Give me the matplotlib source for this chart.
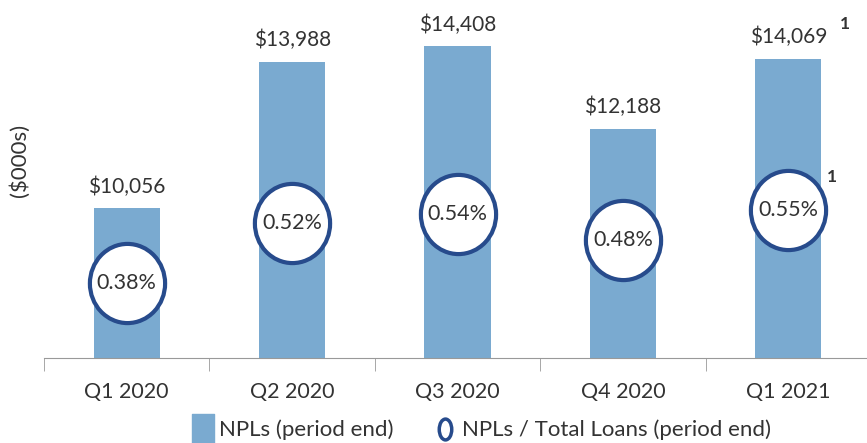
import matplotlib.pyplot as plt
from matplotlib.lines import Line2D
from matplotlib.path import Path
from matplotlib.transforms import Affine2D

quarters = ["Q1 2020", "Q2 2020", "Q3 2020", "Q4 2020", "Q1 2021"]
npls = [10056, 13988, 14408, 12188, 14069]
npl_ratio = [0.38, 0.52, 0.54, 0.48, 0.55]

BAR = "#7aaad0"
NAVY = "#274b8c"
TXT = "#333333"
FONT = "Lato"

plt.rcParams["font.family"] = [FONT, "DejaVu Sans"]

fig = plt.figure(figsize=(8.67, 4.43), dpi=100)
ax = fig.add_axes([44 / 867, 1 - 358 / 443, 827 / 867, 348 / 443])
x = list(range(len(quarters)))

ax.bar(x, npls, width=0.4, color=BAR, zorder=1)
ax.set_xlim(-0.5, 4.5)
ax.set_ylim(6026, 15376)
for xi, v in zip(x, npls):
    ax.annotate(f"${v:,}", (xi, v), xytext=(0, 8), textcoords="offset points",
                ha="center", va="bottom", fontsize=15, color=TXT)

for s in ["top", "right", "left"]:
    ax.spines[s].set_visible(False)
ax.spines["bottom"].set_color("#999999")
ax.set_yticks([])
ax.set_xticks(x)
ax.set_xticklabels(quarters, fontsize=15.5, color=TXT)
ax.tick_params(axis="x", which="major", length=0, pad=17)
ax.set_xticks([i - 0.5 for i in range(len(quarters) + 1)], minor=True)
ax.tick_params(axis="x", which="minor", length=9, color="#999999")

# slightly tall ellipse like the original
oval = Path.unit_circle().transformed(Affine2D().scale(0.95, 1.0))

ax2 = ax.twinx()
ax2.set_ylim(0.2065, 1.012)
ax2.axis("off")
ax2.plot(x, npl_ratio, linestyle="none", marker=oval, markersize=57,
         markerfacecolor="white", markeredgecolor=NAVY, markeredgewidth=3, zorder=3)
for xi, r in zip(x, npl_ratio):
    ax2.text(xi, r, f"{r:.2f}%", ha="center", va="center", fontsize=15.5, color=TXT, zorder=4)

# footnote markers on the latest quarter
ax.annotate("1", (4, npls[4]), xytext=(37, 19), textcoords="offset points",
            ha="left", va="bottom", fontsize=12.5, fontweight="bold", color=TXT)
ax2.annotate("1", (4, npl_ratio[4]), xytext=(28, 18), textcoords="offset points",
             ha="left", va="bottom", fontsize=12.5, fontweight="bold", color=TXT)

fig.text(20 / 867, 1 - 160 / 443, "($000s)", rotation=90, ha="center", va="center",
         fontsize=16, color=TXT)

leg_oval = Path.unit_circle().transformed(Affine2D().scale(0.6, 1.0))
handles = [
    Line2D([], [], linestyle="none", marker=Path([(-0.75, -1), (0.75, -1), (0.75, 1), (-0.75, 1), (-0.75, -1)]),
           markersize=22, markerfacecolor=BAR, markeredgecolor=BAR),
    Line2D([], [], linestyle="none", marker=leg_oval, markersize=15,
           markerfacecolor="white", markeredgecolor=NAVY, markeredgewidth=2.5),
]
fig.legend(handles, ["NPLs (period end)", "NPLs / Total Loans (period end)"],
           loc="center", bbox_to_anchor=(0.555, 1 - 430 / 443), ncol=2, frameon=False,
           fontsize=16, handletextpad=0.25, columnspacing=1.8, handlelength=1.0,
           labelcolor=TXT)

fig.savefig("out.png", dpi=100)
